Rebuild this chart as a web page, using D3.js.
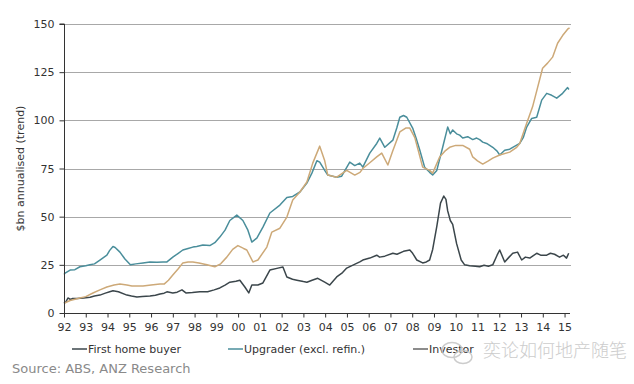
<!DOCTYPE html>
<html><head><meta charset="utf-8">
<script src="https://cdn.jsdelivr.net/npm/d3@7"></script>
<style>
html,body{margin:0;padding:0;background:#fff;}
svg{display:block;font-family:"DejaVu Sans",Verdana,sans-serif;}
</style></head>
<body><svg id="c" width="634" height="384"></svg>
<script>
// ---- data (decimal year, $bn annualised) ----
const yearTicks = [1992,1993,1994,1995,1996,1997,1998,1999,2000,2001,2002,2003,2004,2005,2006,2007,2008,2009,2010,2011,2012,2013,2014,2015];
const valueTicks = [0,25,50,75,100,125,150];
const seriesNames = ["First home buyer","Upgrader (excl. refin.)","Investor"];

const firstHome = [
[1992.0,5],[1992.1,6],[1992.18,7.8],[1992.3,7],[1992.4,7.5],[1992.6,7.5],[1992.9,7.8],[1993.2,8.2],[1993.4,8.8],[1993.65,9.3],[1993.9,10.3],[1994.1,11],[1994.25,11.5],[1994.5,11],[1994.89,9.3],[1995.1,8.8],[1995.35,8.3],[1995.6,8.5],[1995.95,8.8],[1996.2,9.2],[1996.41,9.9],[1996.6,10.3],[1996.73,11],[1997.0,10.4],[1997.2,10.8],[1997.42,12],[1997.6,10.4],[1997.9,10.6],[1998.24,11],[1998.6,11],[1998.9,12],[1999.16,13],[1999.4,14.5],[1999.62,16],[1999.9,16.5],[2000.08,17],[2000.31,13.5],[2000.49,10.4],[2000.63,14.5],[2000.91,14.5],[2001.14,15.6],[2001.46,22.3],[2001.83,23.3],[2002.06,23.9],[2002.24,18.7],[2002.5,17.5],[2002.7,17],[2003.0,16.3],[2003.16,16],[2003.4,17],[2003.66,18],[2003.98,16],[2004.21,14.5],[2004.53,18.7],[2004.8,21],[2004.99,23.3],[2005.3,25],[2005.59,26.5],[2005.73,27.5],[2006.05,28.5],[2006.37,30],[2006.5,29],[2006.74,29.5],[2007.11,31],[2007.3,30.5],[2007.6,32],[2007.89,32.7],[2008.02,31],[2008.21,27.5],[2008.48,26],[2008.65,26.5],[2008.8,27.5],[2008.94,33],[2009.13,45],[2009.3,57],[2009.45,60.7],[2009.55,59],[2009.63,53],[2009.75,48],[2009.86,46],[2010.04,36],[2010.25,27.5],[2010.41,25],[2010.64,24.5],[2010.9,24.3],[2011.1,24],[2011.3,24.8],[2011.5,24.3],[2011.7,25],[2011.9,30],[2012.02,32.7],[2012.25,26.5],[2012.45,29],[2012.62,31],[2012.84,31.6],[2013.03,27.5],[2013.2,29],[2013.4,28.5],[2013.72,31],[2013.9,30],[2014.18,30],[2014.35,31],[2014.54,30.5],[2014.77,29],[2014.95,30],[2015.09,28.5],[2015.19,31]
];
const upgrader = [
[1992.0,20],[1992.05,20.7],[1992.28,22.3],[1992.5,22.5],[1992.73,24],[1993.0,24.5],[1993.19,25],[1993.4,25.5],[1993.65,27.5],[1993.97,30],[1994.1,32.5],[1994.25,34.5],[1994.35,34],[1994.57,31.6],[1994.8,28],[1995.05,25],[1995.3,25.5],[1995.63,26],[1995.95,26.5],[1996.27,26.3],[1996.55,26.5],[1996.73,26.5],[1997.0,29],[1997.25,31],[1997.46,32.7],[1997.7,33.5],[1997.92,34.2],[1998.1,34.5],[1998.38,35.3],[1998.7,35],[1998.93,36.5],[1999.16,39.4],[1999.4,43],[1999.62,48],[1999.94,50.8],[2000.22,48],[2000.45,43],[2000.63,36.8],[2000.86,38.9],[2001.14,44.6],[2001.46,51.9],[2001.92,56],[2002.24,60],[2002.51,60.5],[2002.84,62.8],[2003.16,67.4],[2003.39,72.6],[2003.62,79],[2003.75,78.3],[2003.98,74],[2004.12,71.6],[2004.53,70.5],[2004.76,71],[2005.13,78.3],[2005.36,76.5],[2005.59,77.8],[2005.73,75.7],[2006.05,83],[2006.37,88],[2006.51,90.8],[2006.74,86],[2007.11,89.7],[2007.29,96],[2007.43,101.6],[2007.6,102.5],[2007.75,101.6],[2008.02,96],[2008.2,90],[2008.35,84.5],[2008.57,75.7],[2008.8,73],[2008.94,71.6],[2009.13,74],[2009.4,86],[2009.63,96.5],[2009.75,93],[2009.86,95],[2010.04,93],[2010.18,92.3],[2010.32,90.8],[2010.55,91.5],[2010.78,90],[2010.96,90.8],[2011.1,90],[2011.24,88.7],[2011.42,88],[2011.7,86],[2011.9,84],[2012.02,82],[2012.25,84.5],[2012.48,85],[2012.62,86],[2012.94,88],[2013.1,91],[2013.26,96.5],[2013.49,101],[2013.72,101.6],[2013.95,110.5],[2014.18,114],[2014.41,113],[2014.64,111.5],[2014.91,114],[2015.14,117],[2015.2,116]
];
const investor = [
[1992.0,5],[1992.28,6.5],[1992.73,7.8],[1993.0,8.5],[1993.33,10.4],[1993.65,12],[1993.97,13.5],[1994.3,14.5],[1994.57,15],[1994.89,14.5],[1995.12,14],[1995.63,14],[1996.0,14.5],[1996.41,15],[1996.6,15],[1996.8,17],[1997.0,19.7],[1997.25,23],[1997.46,26],[1997.7,26.5],[1997.92,26.5],[1998.2,26],[1998.57,25],[1998.93,24],[1999.2,25.5],[1999.48,29],[1999.75,33],[1999.99,35],[2000.25,33.5],[2000.4,32.7],[2000.68,26.5],[2000.91,27.5],[2001.32,34.2],[2001.55,42],[2001.92,44],[2002.24,49.8],[2002.51,58.6],[2002.84,62.8],[2003.16,68],[2003.43,77.8],[2003.75,86.6],[2003.98,79],[2004.12,71.6],[2004.53,70.5],[2004.99,74],[2005.36,71.6],[2005.6,73],[2005.73,75],[2006.05,78],[2006.37,81],[2006.6,83],[2006.88,76.8],[2007.1,84],[2007.43,94],[2007.7,96],[2007.89,96],[2008.12,91],[2008.48,75.7],[2008.8,74],[2008.94,72.6],[2009.26,81],[2009.5,84],[2009.72,86],[2010.0,87],[2010.32,87],[2010.64,85],[2010.78,81],[2011.0,79],[2011.24,77.3],[2011.5,79],[2011.7,80.4],[2012.02,82],[2012.48,83.5],[2012.8,86],[2012.94,88],[2013.26,98.5],[2013.53,107],[2013.76,117],[2013.99,127],[2014.22,129.7],[2014.45,132.8],[2014.68,140],[2014.91,144],[2015.14,147.3],[2015.23,148]
];
const colors = ["#3b464b","#4a8e9b","#cda978"];

// ---- chart ----
const svg = d3.select("#c");
const x = d3.scaleLinear().domain([1992, 2015.25]).range([64, 570]);
const y = d3.scaleLinear().domain([0, 150]).range([313, 24]);

// gridlines
svg.append("g").selectAll("line").data(valueTicks.filter(v => v > 0)).join("line")
  .attr("x1", 64).attr("x2", 571)
  .attr("y1", d => Math.round(y(d)) + 0.5).attr("y2", d => Math.round(y(d)) + 0.5)
  .attr("stroke", "#a8a8a8").attr("stroke-width", 1);

// lines
const line = d3.line().x(d => x(d[0])).y(d => y(d[1]));
[firstHome, upgrader, investor].forEach((s, i) => {
  svg.append("path").datum(s).attr("d", line)
    .attr("fill", "none").attr("stroke", colors[i]).attr("stroke-width", 1.5)
    .attr("stroke-linejoin", "round");
});

// axes
const yAxis = d3.axisLeft(y).tickValues(valueTicks).tickSize(5).tickPadding(5);
const gy = svg.append("g").attr("transform", "translate(64.5,0)").call(yAxis);
const xAxis = d3.axisBottom(x).tickValues(yearTicks).tickSize(4).tickPadding(6)
  .tickFormat(d => String(d % 100).padStart(2, "0"));
const gx = svg.append("g").attr("transform", "translate(0,313.5)").call(xAxis);
[gx, gy].forEach(g => {
  g.select(".domain").attr("stroke", "#333");
  g.selectAll(".tick line").attr("stroke", "#333");
  g.selectAll(".tick text").attr("fill", "#333").style("font-size", "11px")
    .style("font-family", "'DejaVu Sans',Verdana,sans-serif");
});
gy.select(".domain").attr("d", "M-5," + y(150) + "H0V" + y(0));
gx.select(".domain").attr("d", "M" + x(1992) + ",0H570");

// y title
svg.append("text").attr("transform", "translate(24," + (y(75)) + ") rotate(-90)")
  .attr("text-anchor", "middle").attr("fill", "#333").style("font-size", "11px")
  .text("$bn annualised (trend)");

// legend
const legendX = [72, 228, 413];
seriesNames.forEach((n, i) => {
  const g = svg.append("g").attr("transform", "translate(" + legendX[i] + ",349)");
  g.append("line").attr("x1", 0).attr("x2", 15).attr("y1", 0).attr("y2", 0)
    .attr("stroke", i === 2 ? "#666" : colors[i]).attr("stroke-width", 1.5);
  g.append("text").attr("x", 16).attr("y", 4).attr("fill", "#333").style("font-size", "11px").text(n);
});

// source
svg.append("text").attr("x", 12).attr("y", 373).attr("fill", "#8a8a8a")
  .style("font-size", "13px").text("Source: ABS, ANZ Research");

// watermark
const wm = svg.append("g").attr("opacity", 0.85);
wm.append("ellipse").attr("cx", 452).attr("cy", 350).attr("rx", 10).attr("ry", 7.5)
  .attr("fill", "none").attr("stroke", "#c4c4c4").attr("stroke-width", 1.5);
wm.append("ellipse").attr("cx", 463).attr("cy", 357).attr("rx", 9).attr("ry", 6.5)
  .attr("fill", "none").attr("stroke", "#c4c4c4").attr("stroke-width", 1.5);
wm.append("text").attr("x", 483).attr("y", 357).attr("fill", "#c4c4c4")
  .style("font-family", "'Noto Sans CJK SC',sans-serif").style("font-size", "18px")
  .style("font-weight", "300").text("奕论如何地产随笔");
</script></body></html>
